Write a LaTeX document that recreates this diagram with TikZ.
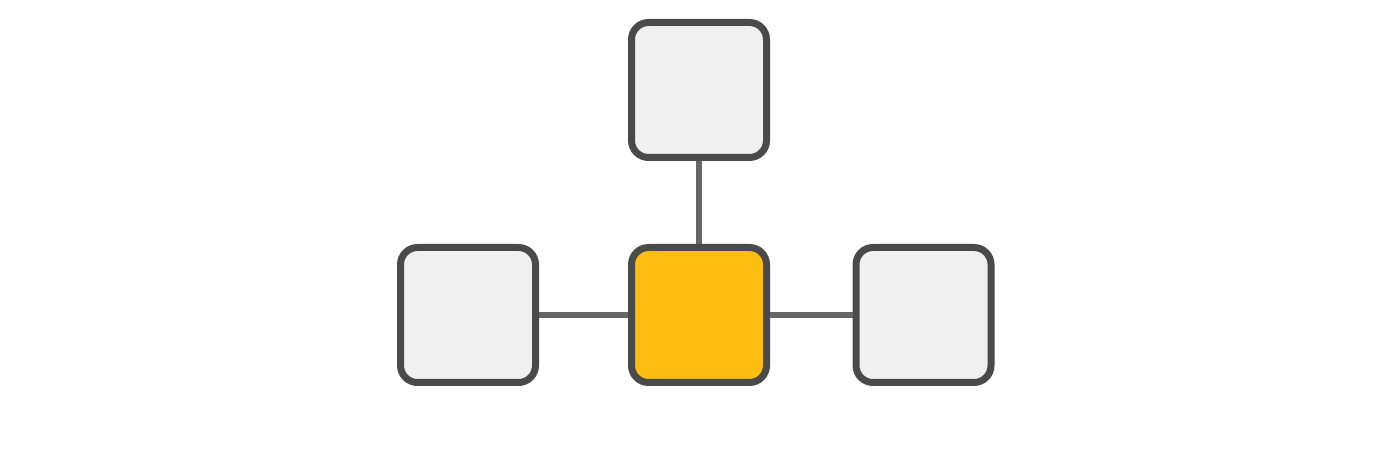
\documentclass[tikz,border=0pt]{standalone}
\usetikzlibrary{positioning}
\definecolor{boxgray}{HTML}{F0F0F0}
\definecolor{boxedge}{HTML}{4A4A4A}
\definecolor{hubyellow}{HTML}{FDBE10}
\definecolor{linkgray}{HTML}{666666}
\tikzset{
  leafbox/.style={draw=boxedge,fill=boxgray,line width=3.5pt,rounded corners=8.5pt,
    minimum size=67.5pt,inner sep=0pt},
  hubbox/.style={leafbox,fill=hubyellow},
  link/.style={draw=linkgray,line width=2.8pt}
}
\begin{document}
\begin{tikzpicture}[x=.5pt,y=-.5pt]
\useasboundingbox (0,0) rectangle (1400,453);
%\draw[very thin,dashed,step=50] (0,0) grid (1400,453);
\node[hubbox] (hub) at (699,315) {};
\node[leafbox] (top) at (699,90) {};
\node[leafbox] (left) at (468,315) {};
\node[leafbox] (right) at (923.5,315) {};

\draw[link] (top) -- (hub);
\draw[link] (left) -- (hub);
\draw[link] (hub) -- (right);
\end{tikzpicture}
\end{document}
